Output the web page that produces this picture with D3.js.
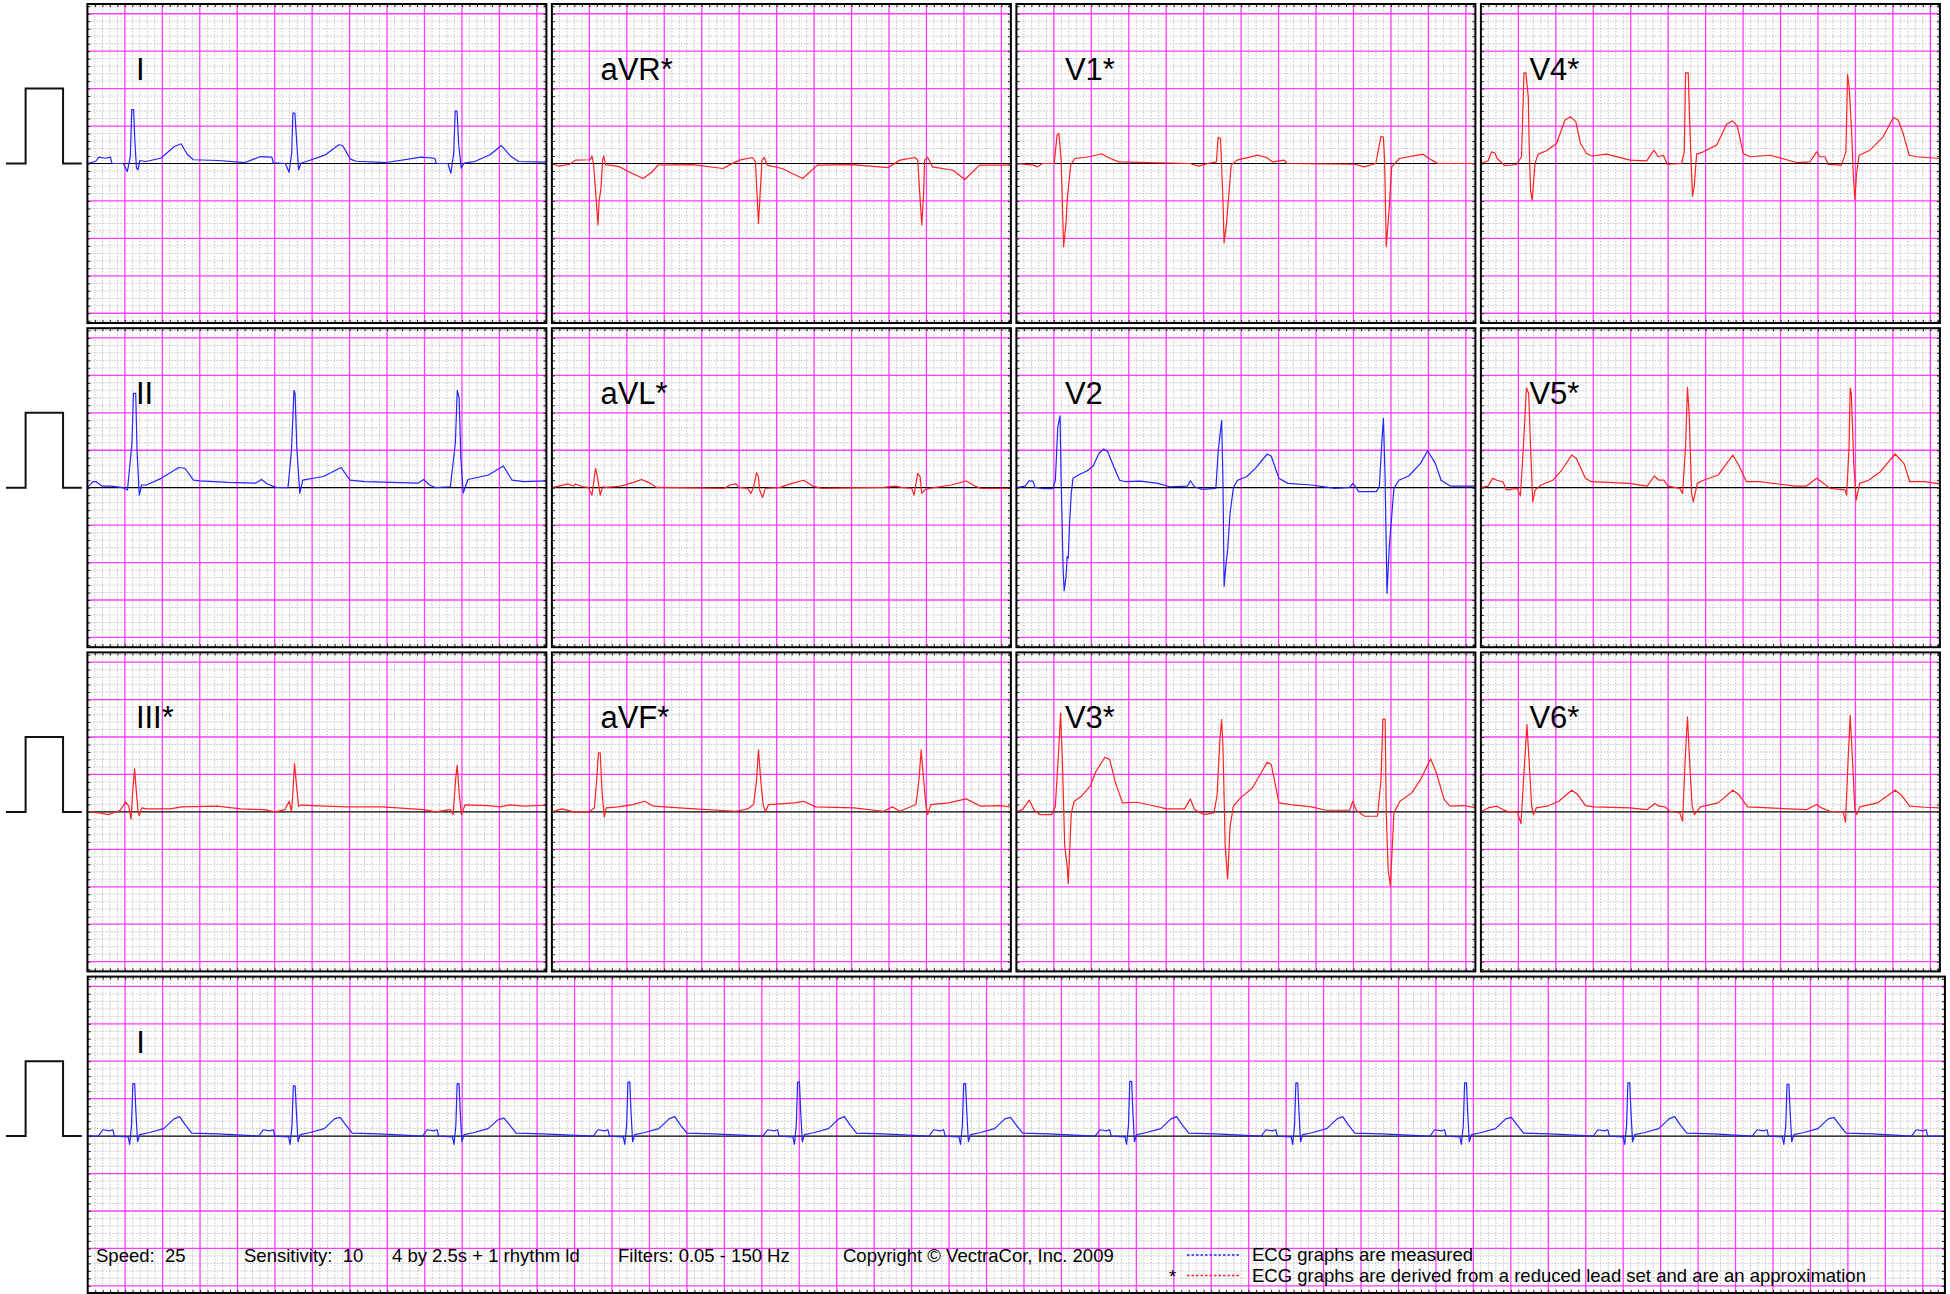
<!DOCTYPE html>
<html>
<head>
<meta charset="utf-8">
<script src="https://cdn.jsdelivr.net/npm/d3@7"></script>
<style>
  body { margin: 0; background: #fff; }
  svg { display: block; }
  text { font-family: "Liberation Sans", Arial, sans-serif; white-space: pre; }
</style>
</head>
<body>
<svg width="1950" height="1294"></svg>
<script>
/* Leads as [time (s), amplitude (mV)] */
var leadI = [[0,0],[0.045,0.03],[0.061,0.085],[0.096,0.07],[0.123,0.085],[0.131,0],[0.192,0],[0.213,-0.107],[0.229,0.09],[0.237,0.72],[0.247,0.72],[0.253,0.32],[0.262,-0.06],[0.27,-0.085],[0.28,0.04],[0.311,0.027],[0.392,0.07],[0.464,0.227],[0.5,0.263],[0.535,0.116],[0.566,0.05],[0.7,0.04],[0.842,0.013],[0.924,0.093],[0.985,0.085],[0.993,0.01],[1.057,0],
  [1.077,-0.116],[1.091,0.138],[1.097,0.672],[1.108,0.672],[1.118,0.27],[1.128,-0.085],[1.14,0.004],[1.169,0.027],[1.271,0.116],[1.343,0.25],[1.363,0.24],[1.404,0.058],[1.435,0.03],[1.598,0.013],[1.782,0.085],[1.855,0.07],[1.864,0],[1.925,0],
  [1.941,-0.13],[1.956,0.138],[1.964,0.7],[1.974,0.7],[1.982,0.27],[1.996,-0.062],[2.011,0.004],[2.068,0.027],[2.15,0.116],[2.211,0.24],[2.262,0.093],[2.303,0.027],[2.451,0.018]];

var leadAVR = [[0,0],[0.038,-0.036],[0.095,-0.01],[0.126,0.045],[0.205,0.05],[0.214,0.1],[0.222,0],[0.24,-0.6],[0.246,-0.82],[0.252,-0.5],[0.262,-0.33],[0.271,0.05],[0.277,0.1],[0.286,-0.02],[0.315,-0.022],[0.362,-0.045],[0.41,-0.11],[0.488,-0.2],[0.536,-0.11],[0.567,-0.02],[0.75,-0.015],[0.914,-0.067],[0.945,-0.022],[1.002,0.045],[1.071,0.08],[1.087,0.02],[1.103,-0.8],[1.112,-0.4],[1.122,0.045],[1.134,0.08],[1.15,-0.022],[1.229,-0.067],[1.339,-0.2],[1.418,-0.022],[1.6,-0.015],[1.796,-0.054],[1.859,0.045],[1.938,0.08],[1.953,0.05],[1.975,-0.82],[1.985,-0.4],[1.99,0.045],[2.007,0.08],[2.032,-0.045],[2.142,-0.09],[2.205,-0.214],[2.284,-0.022],[2.451,-0.022]];

var leadV1 = [[0,0],[0.091,-0.022],[0.113,-0.045],[0.139,0],[0.202,0],[0.217,0.38],[0.227,0.4],[0.239,0.045],[0.252,-1.11],[0.265,-0.8],[0.271,-0.49],[0.29,-0.022],[0.312,0.067],[0.391,0.09],[0.454,0.13],[0.501,0.067],[0.548,0.022],[0.706,0.013],[0.926,0],[0.974,-0.036],[1.021,0],[1.068,0.022],[1.077,0.35],[1.09,0.334],[1.103,-0.49],[1.109,-1.06],[1.122,-0.8],[1.147,-0.022],[1.178,0.045],[1.289,0.111],[1.336,0.08],[1.367,0.022],[1.43,0.045],[1.446,0],[1.808,-0.01],[1.856,-0.045],[1.919,0],[1.947,0.365],[1.96,0.347],[1.966,0.045],[1.975,-1.11],[1.991,-0.58],[2.004,-0.045],[2.045,0.067],[2.171,0.125],[2.218,0.045],[2.25,0],[2.451,0]];

var leadV4 = [[0,0],[0.039,0.036],[0.057,0.156],[0.075,0.14],[0.087,0.067],[0.128,-0.03],[0.19,-0.013],[0.217,0.09],[0.23,1.21],[0.24,1.21],[0.253,0.89],[0.258,0.22],[0.265,-0.356],[0.274,-0.49],[0.283,-0.18],[0.29,0.01],[0.306,0.125],[0.35,0.17],[0.404,0.267],[0.449,0.58],[0.479,0.623],[0.507,0.556],[0.532,0.267],[0.564,0.134],[0.591,0.1],[0.671,0.125],[0.796,0.045],[0.885,0.036],[0.924,0.178],[0.947,0.09],[0.974,0.11],[0.995,-0.01],[1.072,0],[1.086,0.156],[1.093,1.21],[1.107,1.21],[1.114,0.62],[1.123,0],[1.13,-0.436],[1.139,-0.31],[1.152,0.125],[1.187,0.156],[1.259,0.245],[1.312,0.525],[1.344,0.57],[1.369,0.5],[1.401,0.134],[1.437,0.09],[1.544,0.11],[1.686,0.013],[1.757,0.022],[1.793,0.156],[1.81,0.09],[1.837,0.09],[1.855,-0.013],[1.925,-0.022],[1.949,0.156],[1.958,1.19],[1.967,1.01],[1.98,0.4],[1.988,-0.13],[1.997,-0.48],[2.006,-0.13],[2.02,0.11],[2.077,0.178],[2.148,0.356],[2.202,0.614],[2.228,0.58],[2.255,0.4],[2.287,0.11],[2.327,0.09],[2.451,0.067]];

var leadII = [[0,0],[0.03,0.08],[0.047,0.08],[0.079,0.02],[0.126,0.02],[0.189,0],[0.214,-0.03],[0.238,0.6],[0.246,1.26],[0.258,1.26],[0.265,0.5],[0.277,-0.1],[0.29,0.036],[0.315,0.036],[0.394,0.125],[0.488,0.27],[0.52,0.26],[0.567,0.1],[0.6,0.09],[0.75,0.07],[0.898,0.06],[0.929,0.11],[0.961,0.05],[1.008,0.004],[1.071,0],[1.09,0.5],[1.103,1.3],[1.109,1.26],[1.118,0.55],[1.134,-0.075],[1.15,0.1],[1.26,0.15],[1.355,0.27],[1.402,0.1],[1.481,0.08],[1.764,0.06],[1.796,0.11],[1.827,0.036],[1.859,0],[1.938,0.013],[1.965,0.6],[1.975,1.3],[1.985,1.2],[1.994,0.4],[2.007,-0.07],[2.032,0.11],[2.142,0.17],[2.221,0.29],[2.268,0.1],[2.331,0.08],[2.451,0.09]];

var leadAVL = [[0,0],[0.038,0.022],[0.085,0.05],[0.117,0.022],[0.126,0.05],[0.164,0.013],[0.195,0.004],[0.214,-0.1],[0.233,0.26],[0.246,0.1],[0.258,-0.1],[0.271,0.013],[0.29,0.004],[0.369,0.022],[0.432,0.067],[0.479,0.11],[0.526,0.058],[0.558,0.004],[0.668,0],[0.92,-0.009],[0.951,0.036],[0.983,0.05],[0.999,0.004],[1.046,-0.009],[1.062,-0.076],[1.077,0.004],[1.093,0.2],[1.103,0.147],[1.109,-0.03],[1.125,-0.13],[1.14,-0.009],[1.219,0.004],[1.282,0.058],[1.345,0.1],[1.393,0.022],[1.44,-0.009],[1.771,0.004],[1.834,0.022],[1.866,0.004],[1.922,-0.009],[1.934,-0.1],[1.953,0.19],[1.966,0.147],[1.975,-0.076],[1.991,-0.03],[2.016,-0.009],[2.133,0.036],[2.212,0.09],[2.259,0.022],[2.29,-0.009],[2.451,-0.009]];

var leadV2 = [[0,0],[0.047,0.022],[0.069,0.093],[0.088,0.089],[0.1,0.004],[0.142,-0.013],[0.195,-0.013],[0.208,0.1],[0.221,0.81],[0.233,0.96],[0.239,0.1],[0.249,-1.05],[0.255,-1.375],[0.265,-1.19],[0.271,-0.92],[0.277,-0.94],[0.284,-0.476],[0.293,-0.076],[0.302,0.125],[0.331,0.17],[0.378,0.227],[0.41,0.29],[0.441,0.46],[0.466,0.516],[0.488,0.48],[0.52,0.28],[0.551,0.1],[0.583,0.08],[0.662,0.089],[0.756,0.058],[0.819,0.013],[0.914,0.022],[0.929,0.093],[0.951,0.013],[0.992,-0.022],[1.065,-0.009],[1.078,0.5],[1.096,0.9],[1.103,0.1],[1.109,-1.32],[1.118,-1.05],[1.128,-0.83],[1.141,-0.34],[1.159,0.004],[1.181,0.1],[1.229,0.147],[1.276,0.258],[1.339,0.45],[1.361,0.42],[1.402,0.125],[1.449,0.058],[1.575,0.036],[1.701,-0.009],[1.78,0.004],[1.796,0.058],[1.815,0],[1.827,-0.053],[1.922,-0.053],[1.938,0.013],[1.953,0.68],[1.96,0.926],[1.969,0.1],[1.979,-1.41],[1.991,-0.79],[2.016,-0.009],[2.042,0.1],[2.095,0.156],[2.158,0.325],[2.196,0.494],[2.237,0.325],[2.268,0.1],[2.316,0.022],[2.451,0.022]];

var leadV5 = [[0,0],[0.038,0.022],[0.063,0.125],[0.085,0.1],[0.117,0.08],[0.132,0],[0.139,-0.03],[0.195,-0.009],[0.211,-0.11],[0.227,0.55],[0.243,1.33],[0.255,1.26],[0.265,0.55],[0.277,-0.19],[0.29,-0.03],[0.321,0.036],[0.384,0.1],[0.432,0.236],[0.485,0.436],[0.51,0.39],[0.558,0.125],[0.589,0.08],[0.794,0.058],[0.888,0.022],[0.926,0.156],[0.951,0.1],[0.977,0.1],[0.999,0.022],[1.062,-0.009],[1.077,-0.076],[1.093,0.547],[1.103,1.34],[1.112,0.99],[1.125,-0.076],[1.134,-0.19],[1.156,0.058],[1.188,0.1],[1.267,0.169],[1.345,0.436],[1.377,0.3],[1.418,0.08],[1.487,0.08],[1.676,0.022],[1.739,0.022],[1.793,0.125],[1.818,0.08],[1.865,-0.009],[1.944,-0.03],[1.953,-0.1],[1.966,0.547],[1.972,1.33],[1.978,1.26],[1.991,0.325],[2.004,-0.165],[2.023,0.058],[2.07,0.1],[2.133,0.214],[2.212,0.45],[2.259,0.325],[2.29,0.08],[2.369,0.08],[2.451,0.05]];

var leadIII = [[0,0],[0.063,-0.013],[0.11,-0.036],[0.173,0.018],[0.205,0.13],[0.221,0.076],[0.233,-0.093],[0.243,0.32],[0.252,0.574],[0.262,0.254],[0.271,-0.013],[0.277,-0.05],[0.29,0.053],[0.315,0.04],[0.441,0.04],[0.504,0.067],[0.693,0.076],[0.819,0.04],[0.945,0.031],[1.002,0],[1.055,0.031],[1.078,0.142],[1.09,0],[1.096,0.21],[1.106,0.645],[1.118,0.32],[1.128,0.076],[1.141,0.093],[1.197,0.085],[1.386,0.067],[1.575,0.067],[1.796,0.031],[1.859,0],[1.938,0.031],[1.953,-0.036],[1.966,0.43],[1.975,0.623],[1.985,0.254],[1.997,-0.036],[2.016,0.093],[2.142,0.085],[2.205,0.067],[2.253,0.093],[2.331,0.076],[2.451,0.089]];

var leadAVF = [[0,0],[0.054,0.04],[0.117,0],[0.195,0],[0.227,0.053],[0.239,0.43],[0.249,0.79],[0.258,0.79],[0.268,0.254],[0.28,-0.067],[0.29,0.053],[0.353,0.067],[0.432,0.098],[0.495,0.142],[0.542,0.076],[0.762,0.04],[0.983,0.009],[1.046,0.04],[1.077,0.098],[1.093,0.43],[1.103,0.83],[1.115,0.43],[1.128,0.098],[1.14,-0.004],[1.156,0.098],[1.298,0.12],[1.345,0.142],[1.408,0.067],[1.613,0.053],[1.771,0.009],[1.818,0.067],[1.859,0.009],[1.944,0.098],[1.96,0.43],[1.972,0.83],[1.985,0.43],[1.997,0.098],[2.007,-0.036],[2.023,0.098],[2.117,0.12],[2.212,0.174],[2.29,0.076],[2.4,0.085],[2.451,0.062]];

var leadV3 = [[0,0],[0.032,0.031],[0.069,0.156],[0.095,0.022],[0.126,-0.036],[0.189,-0.036],[0.208,0.076],[0.227,0.877],[0.236,1.32],[0.246,0.654],[0.258,-0.458],[0.271,-0.725],[0.277,-0.957],[0.284,-0.547],[0.293,-0.013],[0.309,0.142],[0.347,0.21],[0.394,0.343],[0.425,0.543],[0.473,0.73],[0.498,0.7],[0.529,0.387],[0.567,0.12],[0.646,0.129],[0.725,0.085],[0.803,0.04],[0.898,0.04],[0.929,0.174],[0.951,0.031],[1.002,-0.036],[1.055,-0.013],[1.071,0.21],[1.087,0.966],[1.096,1.233],[1.103,0.877],[1.115,-0.458],[1.128,-0.894],[1.141,-0.19],[1.159,0.076],[1.197,0.187],[1.26,0.32],[1.339,0.663],[1.361,0.632],[1.402,0.12],[1.465,0.098],[1.575,0.067],[1.654,0.022],[1.78,0.022],[1.796,0.142],[1.815,0.022],[1.859,-0.058],[1.928,-0.058],[1.947,0.43],[1.957,1.24],[1.969,1.24],[1.975,-0.013],[1.985,-0.77],[1.997,-0.99],[2.016,-0.013],[2.048,0.142],[2.111,0.254],[2.158,0.43],[2.212,0.708],[2.243,0.52],[2.284,0.165],[2.316,0.076],[2.394,0.085],[2.451,0.053]];

var leadV6 = [[0,0],[0.038,0.053],[0.085,0.076],[0.117,0.031],[0.148,0],[0.195,0],[0.214,-0.156],[0.233,0.654],[0.246,1.166],[0.258,0.654],[0.271,0.076],[0.28,-0.036],[0.296,0.053],[0.353,0.076],[0.416,0.142],[0.485,0.29],[0.517,0.231],[0.558,0.085],[0.605,0.067],[0.794,0.053],[0.888,0.031],[0.929,0.111],[0.951,0.076],[0.983,0.067],[1.008,0.009],[1.062,-0.013],[1.077,-0.125],[1.09,0.654],[1.103,1.27],[1.115,0.654],[1.128,0.076],[1.14,-0.036],[1.172,0.067],[1.267,0.12],[1.345,0.29],[1.377,0.231],[1.424,0.067],[1.613,0.045],[1.739,0.031],[1.793,0.098],[1.818,0.053],[1.865,0.009],[1.934,0],[1.947,-0.138],[1.96,0.654],[1.972,1.29],[1.985,0.654],[1.997,0.031],[2.007,-0.036],[2.023,0.067],[2.117,0.12],[2.212,0.29],[2.243,0.231],[2.29,0.076],[2.369,0.062],[2.451,0.053]];

/* 10 s rhythm strip, lead I */
var rhythmI = [[0,0.01],[0.03,0],
  [0.056,0],[0.081,0.085],[0.116,0.07],[0.134,0.085],[0.142,0],[0.216,-0.01],[0.224,-0.11],[0.234,0.14],[0.241,0.7],[0.251,0.7],[0.257,0.35],[0.266,-0.075],[0.278,0.02],[0.326,0.045],[0.406,0.1],[0.461,0.23],[0.491,0.26],[0.521,0.15],[0.556,0.04],[0.696,0.03],
  [0.913,0],[0.938,0.085],[0.973,0.07],[0.991,0.085],[0.999,0],[1.073,-0.01],[1.081,-0.11],[1.091,0.14],[1.098,0.67],[1.108,0.67],[1.114,0.35],[1.123,-0.075],[1.135,0.02],[1.183,0.045],[1.263,0.1],[1.318,0.23],[1.348,0.25],[1.378,0.15],[1.413,0.04],[1.553,0.03],
  [1.788,0],[1.813,0.085],[1.848,0.07],[1.866,0.085],[1.874,0],[1.948,-0.01],[1.956,-0.11],[1.966,0.14],[1.973,0.7],[1.983,0.7],[1.989,0.35],[1.998,-0.075],[2.01,0.02],[2.058,0.045],[2.138,0.1],[2.193,0.22],[2.223,0.24],[2.253,0.15],[2.288,0.04],[2.428,0.03],
  [2.7,0],[2.725,0.085],[2.76,0.07],[2.778,0.085],[2.786,0],[2.86,-0.01],[2.868,-0.11],[2.878,0.14],[2.885,0.72],[2.895,0.72],[2.901,0.35],[2.91,-0.075],[2.922,0.02],[2.97,0.045],[3.05,0.1],[3.105,0.23],[3.135,0.26],[3.165,0.15],[3.2,0.04],[3.34,0.03],
  [3.606,0],[3.631,0.085],[3.666,0.07],[3.684,0.085],[3.692,0],[3.766,-0.01],[3.774,-0.11],[3.784,0.14],[3.791,0.72],[3.801,0.72],[3.807,0.35],[3.816,-0.075],[3.828,0.02],[3.876,0.045],[3.956,0.1],[4.011,0.23],[4.041,0.26],[4.071,0.15],[4.106,0.04],[4.246,0.03],
  [4.493,0],[4.518,0.085],[4.553,0.07],[4.571,0.085],[4.579,0],[4.653,-0.01],[4.661,-0.11],[4.671,0.14],[4.678,0.7],[4.688,0.7],[4.694,0.35],[4.703,-0.075],[4.715,0.02],[4.763,0.045],[4.843,0.1],[4.898,0.23],[4.928,0.25],[4.958,0.15],[4.993,0.04],[5.133,0.03],
  [5.38,0],[5.405,0.085],[5.44,0.07],[5.458,0.085],[5.466,0],[5.54,-0.01],[5.548,-0.11],[5.558,0.14],[5.565,0.73],[5.575,0.73],[5.581,0.35],[5.59,-0.075],[5.602,0.02],[5.65,0.045],[5.73,0.1],[5.785,0.23],[5.815,0.26],[5.845,0.15],[5.88,0.04],[6.02,0.03],
  [6.267,0],[6.292,0.085],[6.327,0.07],[6.345,0.085],[6.353,0],[6.427,-0.01],[6.435,-0.11],[6.445,0.14],[6.452,0.71],[6.462,0.71],[6.468,0.35],[6.477,-0.075],[6.489,0.02],[6.537,0.045],[6.617,0.1],[6.672,0.23],[6.702,0.26],[6.732,0.15],[6.767,0.04],[6.907,0.03],
  [7.168,0],[7.193,0.085],[7.228,0.07],[7.246,0.085],[7.254,0],[7.328,-0.01],[7.336,-0.11],[7.346,0.14],[7.353,0.71],[7.363,0.71],[7.369,0.35],[7.378,-0.075],[7.39,0.02],[7.438,0.045],[7.518,0.1],[7.573,0.23],[7.603,0.25],[7.633,0.15],[7.668,0.04],[7.808,0.03],
  [8.04,0],[8.065,0.085],[8.1,0.07],[8.118,0.085],[8.126,0],[8.2,-0.01],[8.208,-0.11],[8.218,0.14],[8.225,0.71],[8.235,0.71],[8.241,0.35],[8.25,-0.075],[8.262,0.02],[8.31,0.045],[8.39,0.1],[8.445,0.23],[8.475,0.26],[8.505,0.15],[8.54,0.04],[8.68,0.03],
  [8.89,0],[8.915,0.085],[8.95,0.07],[8.968,0.085],[8.976,0],[9.05,-0.01],[9.058,-0.11],[9.068,0.14],[9.075,0.69],[9.085,0.69],[9.091,0.35],[9.1,-0.075],[9.112,0.02],[9.16,0.045],[9.24,0.1],[9.295,0.23],[9.325,0.25],[9.355,0.15],[9.39,0.04],[9.53,0.03],
  [9.74,0],[9.765,0.085],[9.8,0.07],[9.818,0.085],[9.826,0],[9.918,0]];

/* Calibration pulse: 1 mV for 0.2 s, drawn left of each row */
var calPulse = [[-0.435,0],[-0.33,0],[-0.33,1],[-0.13,1],[-0.13,0],[-0.03,0]];

var layoutRows = [["I","aVR","V1","V4"], ["II","aVL","V2","V5"], ["III","aVF","V3","V6"]];
var measuredLeads = ["I","II","V2"];
var leadData = {I: leadI, aVR: leadAVR, V1: leadV1, V4: leadV4, II: leadII, aVL: leadAVL,
                V2: leadV2, V5: leadV5, III: leadIII, aVF: leadAVF, V3: leadV3, V6: leadV6};

var footerItems = [["Speed:  25", 96], ["Sensitivity:  10", 244], ["4 by 2.5s + 1 rhythm ld", 392],
                   ["Filters: 0.05 - 150 Hz", 618], ["Copyright \u00a9 VectraCor, Inc. 2009", 843]];
var legendItems = ["ECG graphs are measured", "ECG graphs are derived from a reduced lead set and are an approximation"];

/* Layout */
var svg = d3.select("svg");
var left0 = 87.4, top0 = 4;
var colW = 459, colStep = 464.5;
var rowH = 319, rowStep = 324.2;
var panelSecs = 2.451, mvHalf = 2.13;
var blue = "#2424ff", red = "#ff2222";
var panelCount = 0;

var line = function(x, y) {
  return d3.line().x(function(d) { return x(d[0]); }).y(function(d) { return y(d[1]); });
};

function drawPanel(x, y, h, data, label, color) {
  var id = "clip" + (panelCount++);
  var x0 = x.range()[0], x1 = x.range()[1];
  var y0 = y.range()[1], y1 = y0 + h;
  var g = svg.append("g");

  g.append("clipPath").attr("id", id)
    .append("rect").attr("x", x0).attr("y", y0).attr("width", x1 - x0).attr("height", h);

  /* 1 mm grid: 0.04 s and 0.1 mV */
  var nT = Math.floor(x.domain()[1] / 0.04 + 1e-6);
  var ts = d3.range(1, nT + 1).map(function(i) { return i; });
  var mvs = d3.range(-21, 22).filter(function(i) { var p = y(i * 0.1); return p > y0 && p < y1; });

  var grid = g.append("g");
  grid.selectAll(".vmin").data(ts.filter(function(i) { return i % 5; }))
    .enter().append("line")
      .attr("x1", function(i) { return x(i * 0.04); }).attr("x2", function(i) { return x(i * 0.04); })
      .attr("y1", y0).attr("y2", y1)
      .attr("stroke", "#c4c4c4").attr("stroke-width", 1).attr("stroke-dasharray", "1.5,1.5");
  grid.selectAll(".hmin").data(mvs.filter(function(i) { return i % 5; }))
    .enter().append("line")
      .attr("y1", function(i) { return y(i * 0.1); }).attr("y2", function(i) { return y(i * 0.1); })
      .attr("x1", x0).attr("x2", x1)
      .attr("stroke", "#c4c4c4").attr("stroke-width", 1).attr("stroke-dasharray", "1.5,1.5");

  /* 5 mm grid */
  grid.selectAll(".vmaj").data(ts.filter(function(i) { return i % 5 === 0; }))
    .enter().append("line")
      .attr("x1", function(i) { return x(i * 0.04); }).attr("x2", function(i) { return x(i * 0.04); })
      .attr("y1", y0).attr("y2", y1)
      .attr("stroke", "#ff3cff").attr("stroke-width", 1.3);
  grid.selectAll(".hmaj").data(mvs.filter(function(i) { return i % 5 === 0 && i !== 0; }))
    .enter().append("line")
      .attr("y1", function(i) { return y(i * 0.1); }).attr("y2", function(i) { return y(i * 0.1); })
      .attr("x1", x0).attr("x2", x1)
      .attr("stroke", "#ff3cff").attr("stroke-width", 1.3);

  /* zero line */
  g.append("line")
    .attr("x1", x0).attr("x2", x1).attr("y1", y(0)).attr("y2", y(0))
    .attr("stroke", "#000").attr("stroke-width", 1.2);

  /* trace */
  g.append("path")
    .datum(data)
    .attr("clip-path", "url(#" + id + ")")
    .attr("fill", "none")
    .attr("stroke", color)
    .attr("stroke-width", 1.2)
    .attr("stroke-linejoin", "round")
    .attr("d", line(x, y));

  /* label */
  g.append("text")
    .attr("x", x0 + 48.5)
    .attr("y", y0 + 76)
    .attr("font-size", 31)
    .attr("fill", "#000")
    .text(label);

  /* mm ruler ticks on the frame */
  var tickT = ts.map(function(i) { return i * 0.04; }).filter(function(t) { return x(t) < x1 - 1; });
  var tickV = mvs.map(function(i) { return i * 0.1; });
  var axes = [
    [d3.axisBottom(x).tickValues(tickT), "translate(0," + y0 + ")"],
    [d3.axisTop(x).tickValues(tickT), "translate(0," + y1 + ")"],
    [d3.axisRight(y).tickValues(tickV), "translate(" + x0 + ",0)"],
    [d3.axisLeft(y).tickValues(tickV), "translate(" + x1 + ",0)"]
  ];
  axes.forEach(function(a) {
    var ax = g.append("g").attr("transform", a[1])
      .call(a[0].tickSize(3).tickFormat(""));
    ax.select(".domain").remove();
    ax.selectAll("line").attr("stroke", "#222").attr("stroke-width", 1);
  });

  /* frame */
  g.append("rect")
    .attr("x", x0).attr("y", y0).attr("width", x1 - x0).attr("height", h)
    .attr("fill", "none").attr("stroke", "#000").attr("stroke-width", 2);
}

/* 4 x 3 panels */
layoutRows.forEach(function(row, r) {
  row.forEach(function(name, c) {
    var px = left0 + c * colStep, py = top0 + r * rowStep;
    var x = d3.scaleLinear().domain([0, panelSecs]).range([px, px + colW]);
    var y = d3.scaleLinear().domain([-mvHalf, mvHalf]).range([py + rowH, py]);
    var measured = measuredLeads.indexOf(name) >= 0;
    drawPanel(x, y, rowH, leadData[name], name + (measured ? "" : "*"), measured ? blue : red);
  });
});

/* rhythm strip */
var rTop = top0 + 3 * rowStep;
var xr = d3.scaleLinear().domain([0, 9.918]).range([left0 + 0.3, 1944.9]);
var yr = d3.scaleLinear().domain([-mvHalf, mvHalf]).range([rTop + rowH, rTop]);
drawPanel(xr, yr, 1293 - rTop, rhythmI, "I", blue);

/* calibration pulses */
var xc = d3.scaleLinear().domain([0, panelSecs]).range([left0, left0 + colW]);
d3.range(4).forEach(function(r) {
  var py = top0 + r * rowStep;
  var yc = d3.scaleLinear().domain([-mvHalf, mvHalf]).range([py + rowH, py]);
  svg.append("path")
    .datum(calPulse)
    .attr("fill", "none")
    .attr("stroke", "#111")
    .attr("stroke-width", 2)
    .attr("d", line(xc, yc));
});

/* footer */
var footer = svg.append("g").attr("font-size", 18.5).attr("fill", "#000");
footer.selectAll("text").data(footerItems)
  .enter().append("text")
    .attr("x", function(d) { return d[1]; })
    .attr("y", 1262)
    .text(function(d) { return d[0]; });

var legend = svg.append("g").attr("font-size", 18.5).attr("fill", "#000");
legend.selectAll("line").data(legendItems)
  .enter().append("line")
    .attr("x1", 1187).attr("x2", 1241)
    .attr("y1", function(d, i) { return 1255 + i * 20.5; })
    .attr("y2", function(d, i) { return 1255 + i * 20.5; })
    .attr("stroke", function(d, i) { return i ? red : blue; })
    .attr("stroke-width", 1.6)
    .attr("stroke-dasharray", "2.5,2");
legend.selectAll("text.l").data(legendItems)
  .enter().append("text")
    .attr("x", 1252)
    .attr("y", function(d, i) { return 1261 + i * 20.5; })
    .text(function(d) { return d; });
legend.append("text").attr("x", 1169).attr("y", 1283).text("*");
</script>
</body>
</html>
